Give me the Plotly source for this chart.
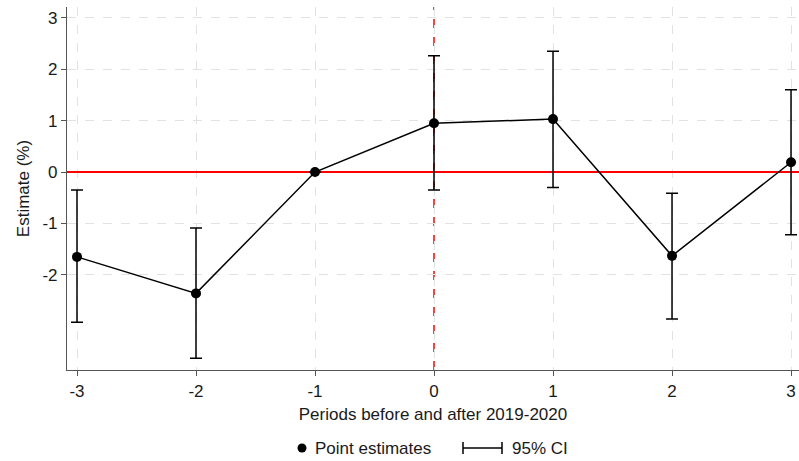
import plotly.graph_objects as go

periods = [-3, -2, -1, 0, 1, 2, 3]
estimates = [-1.65, -2.36, 0.0, 0.95, 1.03, -1.63, 0.19]
ci_upper = [-0.35, -1.09, 0.0, 2.26, 2.35, -0.41, 1.60]
ci_lower = [-2.92, -3.62, 0.0, -0.35, -0.30, -2.86, -1.22]
x_ticks = [-3, -2, -1, 0, 1, 2, 3]
y_ticks = [-2, -1, 0, 1, 2, 3]

FONT = "Liberation Sans, Arial, sans-serif"
FS = 17
AX = "#555555"
GRID = "#e2e2e2"
TXT = "#1a1a1a"

err_plus = [u - e for u, e in zip(ci_upper, estimates)]
err_minus = [e - l for e, l in zip(estimates, ci_lower)]

fig = go.Figure()
fig.add_trace(go.Scatter(
    x=periods, y=estimates, mode="lines+markers",
    line=dict(color="black", width=1.5),
    marker=dict(color="black", size=10),
    error_y=dict(type="data", array=err_plus, arrayminus=err_minus,
                 color="black", thickness=1.5, width=6),
    showlegend=False, hoverinfo="skip"))

fig.add_shape(type="line", xref="x", yref="paper", x0=0, x1=0, y0=0, y1=1,
              line=dict(color="#ff0000", width=1.5, dash="dash"), layer="between")

# manual legend
ly = -0.215
def px(v):
    return (v - 67) / 732.0
fig.add_shape(type="circle", xref="paper", yref="paper", xsizemode="pixel", ysizemode="pixel",
              xanchor=px(302), yanchor=ly, x0=-4.5, x1=4.5, y0=-4.5, y1=4.5,
              fillcolor="black", line=dict(color="black", width=0))
fig.add_annotation(x=px(313), y=ly, xref="paper", yref="paper", text="Point estimates",
                   showarrow=False, xanchor="left", yanchor="middle",
                   font=dict(family=FONT, size=FS, color=TXT))
ci_x0, ci_x1 = px(463), px(502)
fig.add_shape(type="line", xref="paper", yref="paper", x0=ci_x0, x1=ci_x1, y0=ly, y1=ly,
              line=dict(color="black", width=1.5))
for cx in (ci_x0, ci_x1):
    fig.add_shape(type="line", xref="paper", yref="paper", ysizemode="pixel", yanchor=ly,
                  x0=cx, x1=cx, y0=-6, y1=6, line=dict(color="black", width=1.5))
fig.add_annotation(x=px(510), y=ly, xref="paper", yref="paper", text="95% CI",
                   showarrow=False, xanchor="left", yanchor="middle",
                   font=dict(family=FONT, size=FS, color=TXT))

fig.update_layout(
    width=799, height=461,
    margin=dict(l=67, r=0, t=7, b=91),
    paper_bgcolor="white", plot_bgcolor="white",
    font=dict(family=FONT, size=FS, color=TXT),
    xaxis=dict(range=[-3.084, 3.067], tickvals=x_ticks, ticktext=[str(v) for v in x_ticks],
               showgrid=True, gridcolor=GRID, griddash="dash", gridwidth=1,
               showline=True, linecolor=AX, linewidth=1.2, ticks="outside", ticklen=5,
               tickcolor=AX, zeroline=False, automargin=False,
               title=dict(text="Periods before and after 2019-2020", standoff=8,
                          font=dict(size=FS))),
    yaxis=dict(range=[-3.85, 3.21], tickvals=y_ticks, ticktext=[str(v) for v in y_ticks],
               showgrid=True, gridcolor=GRID, griddash="dash", gridwidth=1,
               showline=True, linecolor=AX, linewidth=1.2, ticks="outside", ticklen=5,
               tickcolor=AX, zeroline=True, zerolinecolor="#ff0000", zerolinewidth=1.5,
               automargin=False,
               title=dict(text="Estimate (%)", standoff=8, font=dict(size=FS))),
)

fig.write_html("out.html", config={"displayModeBar": False},
               post_script="document.body.style.margin='0';")
